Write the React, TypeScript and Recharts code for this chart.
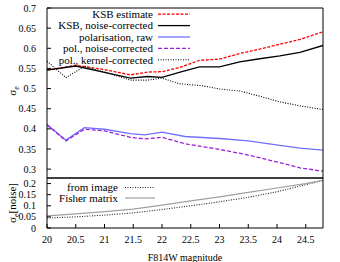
import React from 'react';
import { LineChart, Line, XAxis, YAxis, Legend } from 'recharts';

// ---- data ----
const X_TICKS = [20, 20.5, 21, 21.5, 22, 22.5, 23, 23.5, 24, 24.5];
const TOP_Y_TICKS = [0.3, 0.35, 0.4, 0.45, 0.5, 0.55, 0.6, 0.65, 0.7];
const BOTTOM_Y_TICKS = [0, 0.05, 0.1, 0.15, 0.2];

const KSB_MAG = [20, 20.5, 21.0, 21.45, 21.75, 22.0, 22.3, 22.65, 23.0, 23.35, 23.7, 24.05, 24.4, 24.8];
const KSB_ESTIMATE = [0.546, 0.558, 0.547, 0.534, 0.541, 0.542, 0.552, 0.57, 0.573, 0.587, 0.598, 0.61, 0.622, 0.641];
const KSB_NOISE_CORR = [0.546, 0.556, 0.54, 0.526, 0.53, 0.528, 0.54, 0.554, 0.554, 0.566, 0.574, 0.581, 0.59, 0.607];

const POL_MAG = [20, 20.33, 20.65, 21.0, 21.45, 21.7, 22.0, 22.4, 23.0, 23.5, 24.05, 24.4, 24.8];
const POL_RAW = [0.411, 0.372, 0.403, 0.399, 0.388, 0.385, 0.392, 0.381, 0.376, 0.37, 0.359, 0.352, 0.347];
const POL_NOISE_CORR = [0.41, 0.37, 0.399, 0.395, 0.379, 0.375, 0.379, 0.363, 0.349, 0.335, 0.316, 0.303, 0.295];

const KERNEL_MAG = [20, 20.33, 20.65, 21.0, 21.45, 21.75, 22.0, 22.3, 22.7, 23.0, 23.35, 23.7, 24.05, 24.4, 24.8];
const POL_KERNEL_CORR = [0.568, 0.527, 0.555, 0.541, 0.521, 0.521, 0.526, 0.512, 0.507, 0.499, 0.494, 0.481, 0.467, 0.457, 0.448];

const NOISE_MAG = [20, 20.5, 21, 21.5, 22, 22.5, 23, 23.5, 24, 24.5, 24.8];
const FROM_IMAGE = [0.045, 0.05, 0.058, 0.068, 0.083, 0.1, 0.118, 0.138, 0.163, 0.195, 0.214];
const FISHER = [0.055, 0.064, 0.074, 0.085, 0.103, 0.122, 0.14, 0.16, 0.18, 0.2, 0.214];

const TOP_NAMES = ['KSB estimate', 'KSB, noise-corrected', 'polarisation, raw', 'pol., noise-corrected', 'pol., kernel-corrected'];
const BOTTOM_NAMES = ['from image', 'Fisher matrix'];

const pts = (xs: number[], ys: number[]) => xs.map((x, i) => ({ x, y: ys[i] }));

// ---- styles ----
const FONT = "'Liberation Serif', 'DejaVu Serif', serif";
type Sty = { color: string; dash?: string; width: number };
const STYLE: Record<string, Sty> = {
  'KSB estimate': { color: '#ff0000', dash: '3 1.5', width: 1.3 },
  'KSB, noise-corrected': { color: '#000000', width: 1.3 },
  'polarisation, raw': { color: '#7070ff', width: 1.3 },
  'pol., noise-corrected': { color: '#9a22dd', dash: '4 2', width: 1.3 },
  'pol., kernel-corrected': { color: '#000000', dash: '1 1.5', width: 1.1 },
  'from image': { color: '#222222', dash: '1 1.5', width: 1.1 },
  'Fisher matrix': { color: '#a0a0a0', width: 1.2 },
};

const fmt = (v: number) => String(v);

const makeLegend = (names: string[], textRight: number, lineStart: number, lineEnd: number, y0: number, step: number, h: number) =>
  () => (
    <svg width={340} height={h} style={{ display: 'block' }}>
      {names.map((name, i) => {
        const s = STYLE[name];
        const y = y0 + i * step;
        return (
          <g key={name}>
            <text x={textRight} y={y + 3.8} textAnchor="end" fontSize={11} fontFamily={FONT} fill="#000">
              {name}
            </text>
            <line x1={lineStart} x2={lineEnd} y1={y} y2={y} stroke={s.color} strokeWidth={s.width} strokeDasharray={s.dash} />
          </g>
        );
      })}
    </svg>
  );

const TopLegend = makeLegend(TOP_NAMES, 153, 158, 190, 14.2, 11.4, 70);
const BottomLegend = makeLegend(BOTTOM_NAMES, 118, 125, 155, 187.5, 10.5, 210);

const axisCommon = {
  stroke: '#000',
  interval: 0 as const,
  allowDataOverflow: true,
};

export default function App() {
  return (
    <div style={{ position: 'absolute', left: 0, top: 0, width: 340, height: 262, background: '#fff' }}>
      <div style={{ position: 'absolute', left: 0, top: 0 }}>
        <LineChart width={340} height={262} margin={{ top: 7, right: 16, bottom: 83, left: 46 }}>
          <XAxis xAxisId="b" type="number" dataKey="x" domain={[20, 24.8]} ticks={X_TICKS} orientation="bottom"
            height={1} tick={false} tickSize={-4} {...axisCommon} />
          <XAxis xAxisId="t" type="number" dataKey="x" domain={[20, 24.8]} ticks={X_TICKS} orientation="top"
            height={1} tick={false} tickSize={-4} {...axisCommon} />
          <YAxis yAxisId="l" type="number" domain={[0.278, 0.7]} ticks={TOP_Y_TICKS} width={1}
            tickSize={-4} tickMargin={15} tickFormatter={fmt}
            tick={{ fontSize: 10, fill: '#000', fontFamily: FONT }} {...axisCommon}
            label={{
              content: () => (
                <text transform="rotate(-90)" x={-91} y={16} textAnchor="middle" fontSize={11} fontFamily={FONT} fill="#000">
                  σ<tspan fontSize={8} dy={2.5}>e</tspan>
                </text>
              ),
            }} />
          <YAxis yAxisId="r" orientation="right" type="number" domain={[0.278, 0.7]} ticks={TOP_Y_TICKS} width={1}
            tickSize={-4} tick={false} {...axisCommon} />
          <Legend layout="vertical" align="center" verticalAlign="middle"
            wrapperStyle={{ left: 0, top: 0, width: 340, height: 70 }} content={TopLegend} />
          {[
            ['KSB estimate', pts(KSB_MAG, KSB_ESTIMATE)],
            ['KSB, noise-corrected', pts(KSB_MAG, KSB_NOISE_CORR)],
            ['polarisation, raw', pts(POL_MAG, POL_RAW)],
            ['pol., noise-corrected', pts(POL_MAG, POL_NOISE_CORR)],
            ['pol., kernel-corrected', pts(KERNEL_MAG, POL_KERNEL_CORR)],
          ].map(([name, data]: any) => (
            <Line key={name} name={name} data={data} dataKey="y" xAxisId="b" yAxisId="l" type="linear"
              stroke={STYLE[name].color} strokeWidth={STYLE[name].width} strokeDasharray={STYLE[name].dash}
              dot={false} activeDot={false} isAnimationActive={false} />
          ))}
        </LineChart>
      </div>
      <div style={{ position: 'absolute', left: 0, top: 0 }}>
        <LineChart width={340} height={262} margin={{ top: 177, right: 16, bottom: 33, left: 46 }}>
          <XAxis xAxisId="b" type="number" dataKey="x" domain={[20, 24.8]} ticks={X_TICKS} orientation="bottom"
            height={1} tickSize={-4} tickMargin={12} tickFormatter={fmt}
            tick={{ fontSize: 10, fill: '#000', fontFamily: FONT }} {...axisCommon}
            label={{ value: 'F814W magnitude', position: 'bottom', offset: 25, fontSize: 10, fill: '#000', fontFamily: FONT }} />
          <XAxis xAxisId="t" type="number" dataKey="x" domain={[20, 24.8]} ticks={X_TICKS} orientation="top"
            height={1} tick={false} tickSize={-4} {...axisCommon} />
          <YAxis yAxisId="l" type="number" domain={[0, 0.225]} ticks={BOTTOM_Y_TICKS} width={1}
            tickSize={-4} tickMargin={15} tickFormatter={fmt}
            tick={{ fontSize: 10, fill: '#000', fontFamily: FONT }} {...axisCommon}
            label={{
              content: () => (
                <text transform="rotate(-90)" x={-203} y={16} textAnchor="middle" fontSize={11} fontFamily={FONT} fill="#000">
                  σ<tspan fontSize={8} dy={2.5}>e</tspan><tspan dy={-2.5}>[noise]</tspan>
                </text>
              ),
            }} />
          <YAxis yAxisId="r" orientation="right" type="number" domain={[0, 0.225]} ticks={BOTTOM_Y_TICKS} width={1}
            tickSize={-4} tick={false} {...axisCommon} />
          <Legend layout="vertical" align="center" verticalAlign="middle"
            wrapperStyle={{ left: 0, top: 0, width: 340, height: 210 }} content={BottomLegend} />
          {[
            ['from image', pts(NOISE_MAG, FROM_IMAGE)],
            ['Fisher matrix', pts(NOISE_MAG, FISHER)],
          ].map(([name, data]: any) => (
            <Line key={name} name={name} data={data} dataKey="y" xAxisId="b" yAxisId="l" type="linear"
              stroke={STYLE[name].color} strokeWidth={STYLE[name].width} strokeDasharray={STYLE[name].dash}
              dot={false} activeDot={false} isAnimationActive={false} />
          ))}
        </LineChart>
      </div>
    </div>
  );
}
